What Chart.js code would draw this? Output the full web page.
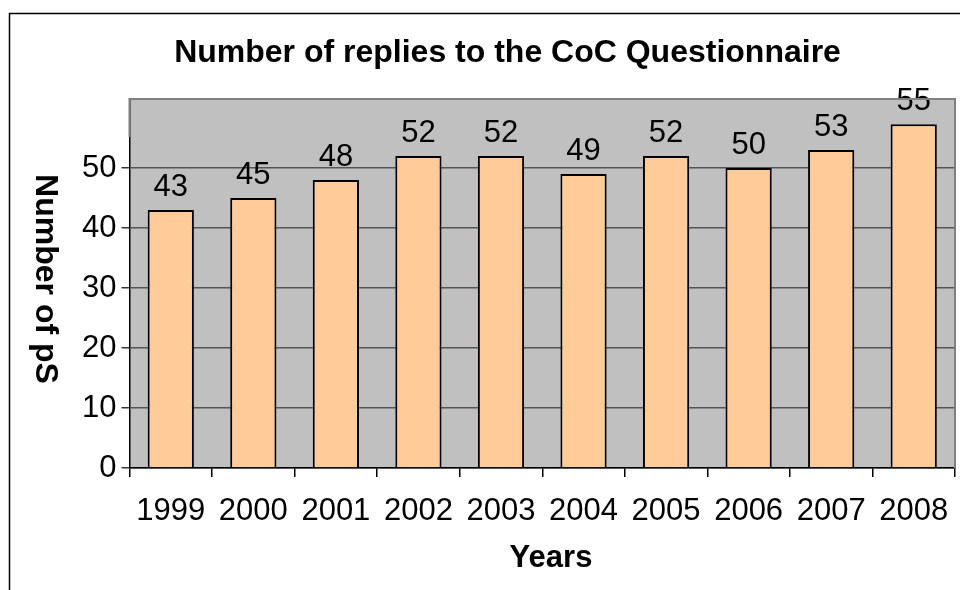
<!DOCTYPE html>
<html>
<head>
<meta charset="utf-8">
<script src="https://cdn.jsdelivr.net/npm/chart.js@4"></script>
<style>
  html, body { margin:0; padding:0; background:#fff; }
  #wrap { width:960px; height:590px; position:relative; }
</style>
</head>
<body>
<div id="wrap"><canvas id="chart"></canvas></div>
<script>
const years = ['1999','2000','2001','2002','2003','2004','2005','2006','2007','2008'];
// bar heights as drawn in the picture (the 2008 bar is drawn taller than its label)
const replies = [43, 45, 48, 52, 52, 49, 52, 50, 53, 57.3];
const replyLabels = ['43','45','48','52','52','49','52','50','53','55'];
const yTicks = [0, 10, 20, 30, 40, 50];

const FONT = '"Liberation Sans", Arial, sans-serif';

const frame = {
  id:'frame',
  beforeDraw(chart){
    const {ctx, chartArea:a} = chart;
    ctx.save();
    ctx.fillStyle = '#fff';
    ctx.fillRect(0, 0, chart.width, chart.height);
    ctx.strokeStyle = '#000';
    ctx.lineWidth = 1.5;
    ctx.beginPath();
    ctx.moveTo(9.5, chart.height);
    ctx.lineTo(9.5, 13.5);
    ctx.lineTo(chart.width, 13.5);
    ctx.stroke();
    ctx.fillStyle = '#c0c0c0';
    ctx.fillRect(a.left, a.top, a.right - a.left, a.bottom - a.top);
    ctx.restore();
  },
  afterDraw(chart){
    const {ctx, chartArea:a} = chart;
    ctx.save();
    ctx.strokeStyle = '#808080';
    ctx.lineWidth = 2;
    ctx.beginPath();
    ctx.moveTo(a.left, 137);
    ctx.lineTo(a.left, a.top);
    ctx.lineTo(a.right, a.top);
    ctx.lineTo(a.right, a.bottom);
    ctx.stroke();

    ctx.fillStyle = '#000';
    ctx.font = 'bold 32px ' + FONT;
    ctx.textAlign = 'center';
    ctx.textBaseline = 'alphabetic';
    ctx.fillText('Number of replies to the CoC Questionnaire', 507.5, 62);

    ctx.font = 'bold 31px ' + FONT;
    ctx.fillText('Years', 551, 567);

    ctx.save();
    ctx.translate(36, 279);
    ctx.rotate(Math.PI / 2);
    ctx.font = 'bold 32px ' + FONT;
    ctx.fillText('Number of pS', 0, 0);
    ctx.restore();
    ctx.restore();
  }
};

const valueLabels = {
  id:'valueLabels',
  afterDatasetsDraw(chart){
    const {ctx} = chart;
    const meta = chart.getDatasetMeta(0);
    ctx.save();
    ctx.fillStyle = '#000';
    ctx.font = '31px ' + FONT;
    ctx.textAlign = 'center';
    ctx.textBaseline = 'alphabetic';
    meta.data.forEach((bar, i) => {
      ctx.fillText(replyLabels[i], bar.x, bar.y - 14);
    });
    ctx.restore();
  }
};

new Chart(document.getElementById('chart'), {
  type:'bar',
  data:{
    labels: years,
    datasets:[{
      data: replies,
      backgroundColor:'#ffcc99',
      borderColor:'#000',
      borderWidth:2,
      borderSkipped:'bottom',
      barPercentage:0.56,
      categoryPercentage:1
    }]
  },
  options:{
    responsive:true,
    maintainAspectRatio:false,
    animation:false,
    layout:{padding:{top:99, right:5, left:0, bottom:0}},
    plugins:{legend:{display:false}, tooltip:{enabled:false}},
    scales:{
      x:{
        afterFit: s => { s.height = 122; s.paddingLeft = 0; s.paddingRight = 0; },
        grid:{display:true, drawOnChartArea:false, drawTicks:true, tickLength:9, color:'#000', lineWidth:1.5, offset:true},
        border:{display:true, color:'#000', width:1.5},
        ticks:{color:'#000', font:{family:FONT, size:31}, padding:16, maxRotation:0, autoSkip:false}
      },
      y:{
        min:0, max:61.5,
        afterFit: s => { s.width = 129.5; s.paddingTop = 0; s.paddingBottom = 0; },
        afterBuildTicks: s => { s.ticks = yTicks.map(v => ({value:v})); },
        grid:{color:'#555', lineWidth:1.5, tickLength:8, tickColor:'#333'},
        border:{display:true, color:'#000', width:1.5},
        ticks:{color:'#000', font:{family:FONT, size:31}, padding:5}
      }
    }
  },
  plugins:[frame, valueLabels]
});
</script>
</body>
</html>
